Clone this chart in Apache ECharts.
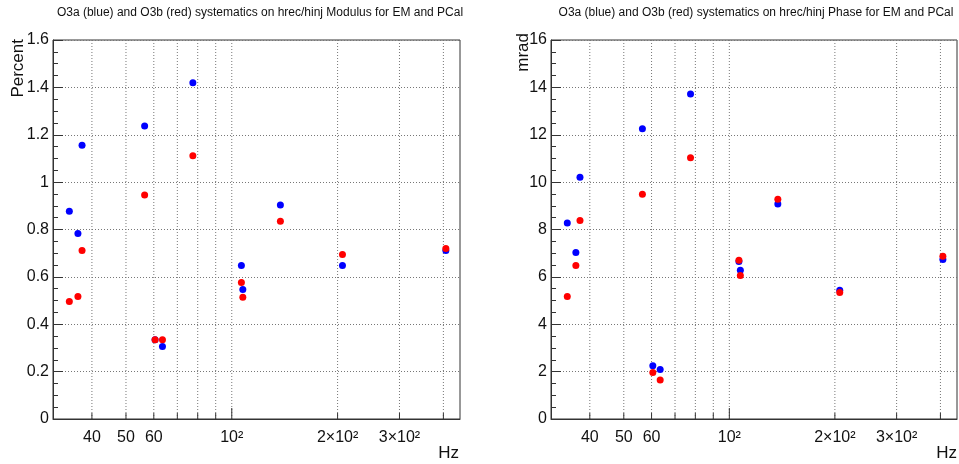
<!DOCTYPE html>
<html>
<head>
<meta charset="utf-8">
<title>O3a / O3b systematics on hrec/hinj</title>
<script src="https://cdn.jsdelivr.net/npm/echarts@6.0.0/dist/echarts.min.js"></script>
<style>
  html, body { margin: 0; padding: 0; background: #fff; }
  #chart { width: 959px; height: 464px; }
</style>
</head>
<body>
<div id="chart"></div>
<script>
// Calibration line frequencies (Hz)
const freqs = [34.5, 36.5, 37.5, 56.5, 60.5, 63.5, 77.5, 106.5, 107.5, 137.5, 206.5, 406.5];

// Modulus systematics (percent)
const modulusO3a = [0.877, 0.783, 1.156, 1.237, 0.335, 0.306, 1.420, 0.648, 0.547, 0.903, 0.648, 0.711];
const modulusO3b = [0.496, 0.517, 0.711, 0.946, 0.335, 0.335, 1.111, 0.576, 0.514, 0.835, 0.694, 0.720];

// Phase systematics (mrad)
const phaseO3a = [8.27, 7.03, 10.21, 12.25, 2.25, 2.09, 13.72, 6.65, 6.28, 9.08, 5.44, 6.73];
const phaseO3b = [5.17, 6.48, 8.38, 9.49, 1.96, 1.65, 11.03, 6.70, 6.06, 9.28, 5.34, 6.87];

// Frequency axis grid positions and their labels
const freqTicks = [40, 50, 60, 70, 80, 90, 100, 200, 300, 400];
const freqTickLabels = ['40', '50', '60', '', '', '', '10²', '2×10²', '3×10²', ''];

// Axis ranges
const freqRange = [31, 446];
const modulusRange = [0, 1.6];
const phaseRange = [0, 16];

const FONT = '"Liberation Sans", Arial, Helvetica, sans-serif';
const AXIS_COLOR = '#333';
const GRID_COLOR = '#777';

const chart = echarts.init(document.getElementById('chart'), null, { renderer: 'canvas' });

function pairs(xs, ys) {
  return xs.map((x, i) => [x, ys[i]]);
}

// Vertical dotted grid lines, bottom ticks and labels of the log frequency axis
function freqGridRenderer(yRange) {
  return function (params, api) {
    const v = api.value(0);
    const bottom = api.coord([v, yRange[0]]);
    const top = api.coord([v, yRange[1]]);
    const decade = Math.abs(Math.log10(v) - Math.round(Math.log10(v))) < 1e-9;
    const tickLen = decade ? 11 : 6;
    const label = freqTickLabels[params.dataIndex];
    const children = [
      {
        type: 'line',
        shape: { x1: bottom[0], y1: bottom[1], x2: top[0], y2: top[1] },
        style: { stroke: GRID_COLOR, lineWidth: 1, lineDash: [1, 2] },
        silent: true
      },
      {
        type: 'line',
        shape: { x1: bottom[0], y1: bottom[1], x2: bottom[0], y2: bottom[1] - tickLen },
        style: { stroke: AXIS_COLOR, lineWidth: 1 },
        silent: true
      }
    ];
    if (label) {
      children.push({
        type: 'text',
        x: bottom[0],
        y: bottom[1] + 19,
        style: {
          text: label,
          font: '16px ' + FONT,
          fill: '#111',
          align: 'center',
          verticalAlign: 'middle'
        },
        silent: true
      });
    }
    return { type: 'group', children: children };
  };
}

function xAxisDef(gridIndex) {
  return {
    gridIndex: gridIndex,
    type: 'log',
    logBase: 10,
    min: freqRange[0],
    max: freqRange[1],
    axisLine: { show: true, lineStyle: { color: AXIS_COLOR, width: 1 } },
    axisTick: { show: false },
    axisLabel: { show: false },
    splitLine: { show: false },
    minorTick: { show: false },
    minorSplitLine: { show: false }
  };
}

function yAxisDef(gridIndex, range, interval) {
  return {
    gridIndex: gridIndex,
    type: 'value',
    min: range[0],
    max: range[1],
    interval: interval,
    axisLine: { show: true, lineStyle: { color: AXIS_COLOR, width: 1 } },
    axisTick: { show: true, inside: true, length: 10, lineStyle: { color: AXIS_COLOR } },
    minorTick: { show: true, splitNumber: 4, length: 5, lineStyle: { color: AXIS_COLOR } },
    splitLine: { show: true, lineStyle: { color: GRID_COLOR, width: 1, type: [1, 2] } },
    axisLabel: {
      show: true,
      fontSize: 16,
      fontFamily: FONT,
      color: '#111',
      margin: 4,
      formatter: function (v) { return String(Math.round(v * 100) / 100); }
    }
  };
}

function markerSeries(idx, data, color, z) {
  return {
    type: 'scatter',
    xAxisIndex: idx,
    yAxisIndex: idx,
    data: data,
    symbol: 'circle',
    symbolSize: 7,
    itemStyle: { color: color, opacity: 1 },
    z: z,
    silent: true,
    animation: false
  };
}

function gridSeries(idx, yRange) {
  return {
    type: 'custom',
    xAxisIndex: idx,
    yAxisIndex: idx,
    data: freqTicks.map(f => [f, yRange[0]]),
    renderItem: freqGridRenderer(yRange),
    clip: false,
    z: 1,
    silent: true,
    animation: false
  };
}

function textEl(text, x, y, size, align, rotation) {
  return {
    type: 'text',
    x: x,
    y: y,
    rotation: rotation || 0,
    style: {
      text: text,
      font: size + 'px ' + FONT,
      fill: '#111',
      align: align,
      verticalAlign: 'middle'
    },
    silent: true
  };
}

const option = {
  backgroundColor: '#fff',
  animation: false,
  grid: [
    { left: 53, top: 40, width: 407, height: 379, show: true, borderColor: AXIS_COLOR, borderWidth: 1, backgroundColor: 'transparent' },
    { left: 551, top: 40, width: 406, height: 379, show: true, borderColor: AXIS_COLOR, borderWidth: 1, backgroundColor: 'transparent' }
  ],
  xAxis: [xAxisDef(0), xAxisDef(1)],
  yAxis: [yAxisDef(0, modulusRange, 0.2), yAxisDef(1, phaseRange, 2)],
  series: [
    gridSeries(0, modulusRange),
    markerSeries(0, pairs(freqs, modulusO3a), '#0000ff', 3),
    markerSeries(0, pairs(freqs, modulusO3b), '#ff0000', 4),
    gridSeries(1, phaseRange),
    markerSeries(1, pairs(freqs, phaseO3a), '#0000ff', 3),
    markerSeries(1, pairs(freqs, phaseO3b), '#ff0000', 4)
  ],
  graphic: [
    textEl('O3a (blue) and O3b (red) systematics on hrec/hinj Modulus for EM and PCal', 260, 13, 12, 'center'),
    textEl('O3a (blue) and O3b (red) systematics on hrec/hinj Phase for EM and PCal', 756, 13, 12, 'center'),
    textEl('Percent', 18, 39, 17, 'right', Math.PI / 2),
    textEl('mrad', 523, 33, 17, 'right', Math.PI / 2),
    textEl('Hz', 459, 453, 17, 'right'),
    textEl('Hz', 957, 453, 17, 'right')
  ]
};

chart.setOption(option);
</script>
</body>
</html>
